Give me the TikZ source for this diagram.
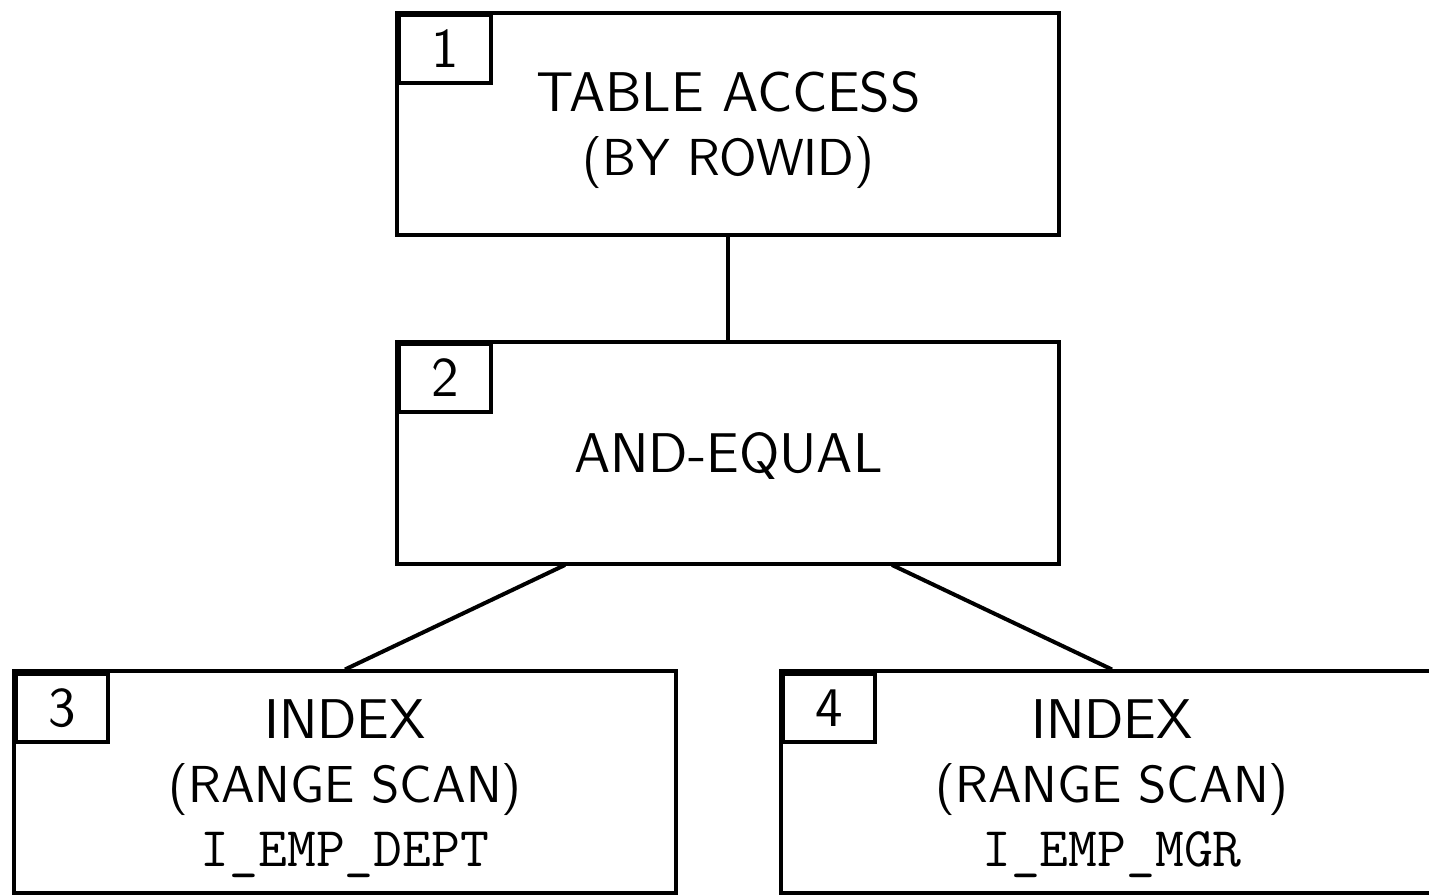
\documentclass[tikz,border=0pt]{standalone}
\usepackage{fontspec}
\begin{document}
\begin{tikzpicture}[x=0.25pt,y=-0.25pt,
  every node/.style={font=\sffamily\fontsize{14}{16}\selectfont},
  opbox/.style={draw,line width=1pt,minimum width=165.5pt,minimum height=55.5pt,inner sep=0pt},
  optext/.style={align=center,inner sep=0pt},
  numbox/.style={draw,line width=1pt,anchor=north west,minimum width=23pt,minimum height=17pt,inner sep=0pt},
  link/.style={line width=1pt}]
\newcommand{\subline}[1]{{\fontsize{13}{16}\selectfont #1}}
\clip (0,0) rectangle (1429,896);
\node[opbox] (b1) at (728.5,124.5) {};
\node[optext] (t1) at ([yshift=-1.5pt]b1.center) {TABLE ACCESS\\\subline{(BY ROWID)}};
\node[numbox] (n1) at (397,13) {1};
\node[opbox] (b2) at (728.5,453.5) {};
\node[optext] (t2) at ([yshift=-0.5pt]b2.center) {AND-EQUAL};
\node[numbox] (n2) at (397,342) {2};
\node[opbox] (b3) at (345,782.5) {};
\node[optext] (t3) at ([yshift=-1.5pt]b3.center) {INDEX\\\subline{(RANGE SCAN)}\\{\ttfamily I\_EMP\_DEPT}};
\node[numbox] (n3) at (14,672) {3};
\node[opbox] (b4) at (1112,782.5) {};
\node[optext] (t4) at ([yshift=-1.5pt]b4.center) {INDEX\\\subline{(RANGE SCAN)}\\{\ttfamily I\_EMP\_MGR}};
\node[numbox] (n4) at (781,672) {4};
\coordinate (b2l) at (565,565);
\coordinate (b2r) at (892,565);
\draw[link] (b1.south) -- (b2.north);
\draw[link] (b2l) -- (b3.north);
\draw[link] (b2r) -- (b4.north);
\end{tikzpicture}
\end{document}
